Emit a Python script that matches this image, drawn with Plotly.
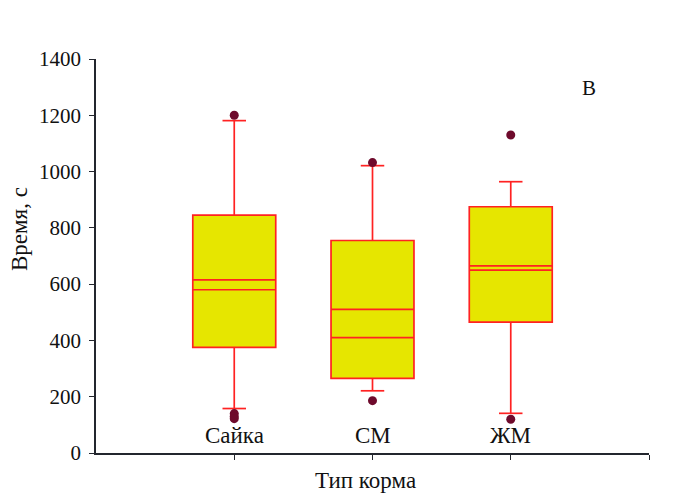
import plotly.graph_objects as go

# ---- data ----
categories = ["Сайка", "СМ", "ЖМ"]
positions = [1, 2, 3]
q1 = [375, 265, 465]
median = [580, 410, 650]
mean = [615, 510, 665]
q3 = [845, 755, 875]
lower_whisker = [158, 221, 141]
upper_whisker = [1181, 1021, 964]
outliers = {
    "Сайка": [1200, 140, 130, 122],
    "СМ": [1032, 186],
    "ЖМ": [1130, 120],
}
y_ticks = [0, 200, 400, 600, 800, 1000, 1200, 1400]

# ---- styles ----
RED = "#ff2222"
FILL = "#e6e600"
DOT = "#6e0a2c"
AXIS = "#23262e"
TXT = "#111111"
FONT = "Liberation Serif"
BOX_W = 0.6
CAP_W = 0.17

fig = go.Figure()

fig.add_trace(go.Box(
    x=positions, q1=q1, median=median, q3=q3,
    lowerfence=lower_whisker, upperfence=upper_whisker,
    width=BOX_W, fillcolor=FILL, line=dict(color=RED, width=1.7),
    boxpoints=False, whiskerwidth=0, hoverinfo="skip", showlegend=False,
))

# second line inside each box (mean)
mx, my = [], []
for p, m in zip(positions, mean):
    mx += [p - BOX_W / 2, p + BOX_W / 2, None]
    my += [m, m, None]
fig.add_trace(go.Scatter(x=mx, y=my, mode="lines",
                         line=dict(color=RED, width=1.7),
                         hoverinfo="skip", showlegend=False))

# whisker caps
cx, cy = [], []
for p, lo, hi in zip(positions, lower_whisker, upper_whisker):
    for v in (lo, hi):
        cx += [p - CAP_W / 2, p + CAP_W / 2, None]
        cy += [v, v, None]
fig.add_trace(go.Scatter(x=cx, y=cy, mode="lines",
                         line=dict(color=RED, width=1.7),
                         hoverinfo="skip", showlegend=False))

# outliers
ox, oy = [], []
for p, c in zip(positions, categories):
    for v in outliers[c]:
        ox.append(p)
        oy.append(v)
fig.add_trace(go.Scatter(x=ox, y=oy, mode="markers",
                         marker=dict(color=DOT, size=9, line=dict(width=0)),
                         hoverinfo="skip", showlegend=False))

# category labels drawn inside the plot, just above the axis
for p, c in zip(positions, categories):
    fig.add_annotation(x=p, y=0, xref="x", yref="y", text=c, showarrow=False,
                       xanchor="center", yanchor="bottom", yshift=3,
                       font=dict(family=FONT, size=23, color=TXT))

# panel letter
fig.add_annotation(x=0.891, y=0.926, xref="paper", yref="paper",
                   xanchor="center", yanchor="middle",
                   text="В", showarrow=False,
                   font=dict(family=FONT, size=21, color=TXT))

# axis titles
fig.add_annotation(x=0.488, y=-0.071, xref="paper", yref="paper",
                   xanchor="center", yanchor="middle",
                   text="Тип корма", showarrow=False,
                   font=dict(family=FONT, size=23, color=TXT))
fig.add_annotation(x=-0.137, y=0.569, xref="paper", yref="paper",
                   xanchor="center", yanchor="middle", textangle=-90,
                   text="Время, с", showarrow=False,
                   font=dict(family=FONT, size=23, color=TXT))

fig.update_layout(
    width=687, height=500,
    margin=dict(l=96, r=38, t=59, b=47),
    paper_bgcolor="white", plot_bgcolor="white",
    font=dict(family=FONT, color=TXT, size=21),
)
fig.update_xaxes(
    range=[0, 4], tickvals=positions + [4], showticklabels=False,
    ticks="outside", ticklen=5, tickcolor=AXIS, tickwidth=1.3,
    showline=True, linecolor=AXIS, linewidth=1.6, showgrid=False, zeroline=False,
)
fig.update_yaxes(
    range=[0, 1400], tickvals=y_ticks,
    ticks="outside", ticklen=5, tickcolor=AXIS, tickwidth=1.3,
    ticklabelstandoff=4,
    tickfont=dict(family=FONT, size=21, color=TXT),
    showline=True, linecolor=AXIS, linewidth=1.6, showgrid=False, zeroline=False,
)

fig.write_html("out.html")
